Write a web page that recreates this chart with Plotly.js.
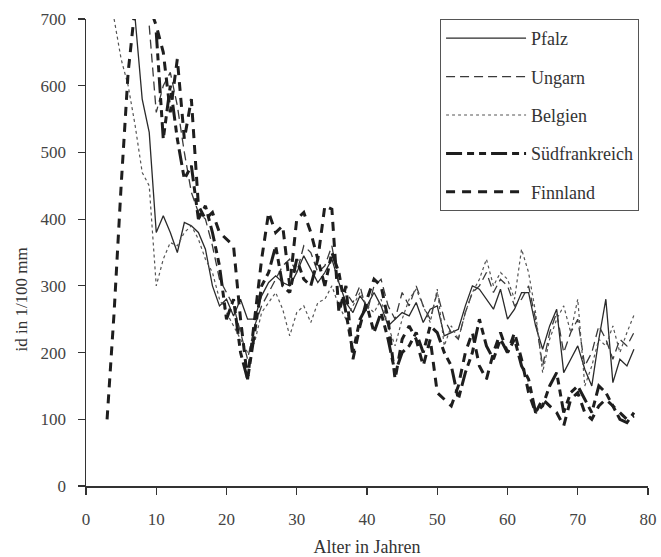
<!DOCTYPE html>
<html>
<head>
<meta charset="utf-8">
<script src="https://cdn.plot.ly/plotly-3.0.1.min.js"></script>
<style>html,body{margin:0;padding:0;background:#fff;}#chart{width:661px;height:557px;}</style>
</head>
<body>
<div id="chart"></div>
<script>
// Ages (years) and values (id in 1/100 mm)
var pfalzAges = [7,8,9,10,11,12,13,14,15,16,17,18,19,20,21,22,23,24,25,26,27,28,29,30,31,32,33,34,35,36,37,38,39,40,41,42,43,44,45,46,47,48,49,50,51,52,53,54,55,56,57,58,59,60,61,62,63,64,65,66,67,68,69,70,71,72,73,74,75,76,77,78];
var pfalzVals = [700,580,530,380,405,380,350,395,390,380,355,300,270,280,255,280,250,250,285,305,315,305,300,320,345,325,305,320,340,305,275,260,285,270,290,270,240,250,260,255,275,245,265,270,225,230,235,270,300,295,280,265,295,250,265,290,290,240,205,240,265,170,190,210,175,150,220,280,155,190,180,205];

var ungarnAges = [9,10,11,12,13,14,15,16,17,18,19,20,21,22,23,24,25,26,27,28,29,30,31,32,33,34,35,36,37,38,39,40,41,42,43,44,45,46,47,48,49,50,51,52,53,54,55,56,57,58,59,60,61,62,63,64,65,66,67,68,69,70,71,72,73,74,75,76,77,78];
var ungarnVals = [690,560,600,620,570,500,440,410,400,360,310,290,270,230,190,240,270,290,310,330,340,320,360,350,320,330,360,300,290,275,300,260,300,310,270,250,290,270,300,270,250,290,250,230,220,260,290,300,320,290,310,300,270,280,300,250,180,230,260,200,230,250,180,200,240,220,190,220,210,230];

var belgienAges = [4,5,6,7,8,9,10,11,12,13,14,15,16,17,18,19,20,21,22,23,24,25,26,27,28,29,30,31,32,33,34,35,36,37,38,39,40,41,42,43,44,45,46,47,48,49,50,51,52,53,54,55,56,57,58,59,60,61,62,63,64,65,66,67,68,69,70,71,72,73,74,75,76,77,78];
var belgienVals = [700,640,600,540,470,450,300,340,365,360,380,390,370,340,320,280,260,240,220,200,215,260,275,290,265,225,260,270,245,275,280,300,270,250,270,290,270,260,280,240,210,250,280,295,270,245,295,210,240,220,260,290,310,340,300,320,310,280,355,320,260,170,220,250,270,230,280,150,180,220,210,240,200,230,256];

var suedAges = [10,11,12,13,14,15,16,17,18,19,20,21,22,23,24,25,26,27,28,29,30,31,32,33,34,35,36,37,38,39,40,41,42,43,44,45,46,47,48,49,50,51,52,53,54,55,56,57,58,59,60,61,62,63,64,65,66,67,68,69,70,71,72,73,74,75,76,77,78];
var suedVals = [680,520,600,520,460,480,400,420,380,330,250,280,200,160,230,300,320,360,300,290,340,310,300,340,300,350,320,260,200,250,270,230,260,220,170,200,210,230,200,240,230,200,180,130,170,200,250,210,190,220,200,220,180,160,110,120,150,170,110,140,150,130,110,150,140,120,100,95,110];

var finnAges = [3,4,5,6,7,8,9,10,11,12,13,14,15,16,17,18,19,20,21,22,23,24,25,26,27,28,29,30,31,32,33,34,35,36,37,38,39,40,41,42,43,44,45,46,47,48,49,50,51,52,53,54,55,56,57,58,59,60,61,62,63,64,65,66,67,68,69,70,71,72,73,74,75,76,77,78];
var finnVals = [100,260,450,620,720,760,720,690,650,560,640,520,580,420,400,410,380,370,360,250,160,250,340,410,380,390,300,400,410,380,340,420,415,260,300,190,240,280,310,300,250,160,220,240,220,180,220,140,130,120,150,200,230,180,160,200,230,200,230,190,140,110,130,120,110,90,130,140,110,100,120,130,120,110,100,105];

var seriesNames = ["Pfalz","Ungarn","Belgien","Südfrankreich","Finnland"];
var xTicks = [0,10,20,30,40,50,60,70,80];
var yTicks = [0,100,200,300,400,500,600,700];

var font = "Liberation Serif, Times New Roman, serif";
function tr(x, y, name, width, dash, color, i){
  return {x:x, y:y, name:name, type:'scatter', mode:'lines', legendgroup:'g'+i,
    line:{width:width, dash:dash, color:color}, cliponaxis:true};
}
var data = [
  tr(pfalzAges, pfalzVals, seriesNames[0], 1.3, 'solid', '#2a2a2a', 0),
  tr(ungarnAges, ungarnVals, seriesNames[1], 1.3, '9px,5px', '#3a3a3a', 1),
  tr(belgienAges, belgienVals, seriesNames[2], 1.2, '3px,3px', '#555555', 2),
  tr(suedAges, suedVals, seriesNames[3], 3, '16px,5px,7px,5px,7px,5px', '#1e1e1e', 3),
  tr(finnAges, finnVals, seriesNames[4], 3, '9px,7px', '#1e1e1e', 4)
];

var axFont = {family:font, size:17, color:'#444'};
var layout = {
  width:661, height:557,
  margin:{l:86, r:13, t:19, b:71},
  paper_bgcolor:'#fff', plot_bgcolor:'#fff',
  showlegend:true,
  legend:{x:0.63, y:1.0, xanchor:'left', yanchor:'top', bgcolor:'#fff',
    bordercolor:'#555', borderwidth:1, font:{family:font, size:18, color:'#333'},
    itemwidth:80, tracegroupgap:12, traceorder:'grouped'},
  xaxis:{range:[0,80], tickvals:xTicks, ticktext:xTicks.map(String), ticks:'outside', ticklen:7,
    tickwidth:1.2, tickcolor:'#333', showline:true, linecolor:'#333', linewidth:1.5,
    showgrid:false, zeroline:false, tickfont:axFont, ticklabelstandoff:10,
    title:{text:'Alter in Jahren', font:{family:font, size:18, color:'#333'}, standoff:12}},
  yaxis:{range:[0,700], tickvals:yTicks, ticktext:yTicks.map(String), ticks:'outside', ticklen:7,
    tickwidth:1.2, tickcolor:'#333', showline:true, linecolor:'#333', linewidth:1.5,
    showgrid:false, zeroline:false, tickfont:axFont, ticklabelstandoff:8},
  xaxis2:{range:[0,80], overlaying:'x', anchor:'y', tickvals:xTicks, ticks:'inside', ticklen:7,
    tickwidth:1.2, tickcolor:'#333', showticklabels:false, showline:false, showgrid:false, zeroline:false},
  yaxis2:{range:[0,700], overlaying:'y', anchor:'x', tickvals:yTicks, ticks:'inside', ticklen:7,
    tickwidth:1.2, tickcolor:'#333', showticklabels:false, showline:false, showgrid:false, zeroline:false},
  annotations:[{text:'id in 1/100 mm', textangle:-90, xref:'paper', yref:'paper',
    x:-0.115, y:0.40, xanchor:'center', yanchor:'middle', showarrow:false,
    font:{family:font, size:17, color:'#333'}}]
};
Plotly.newPlot('chart', data, layout, {displayModeBar:false, staticPlot:true});
</script>
</body>
</html>
